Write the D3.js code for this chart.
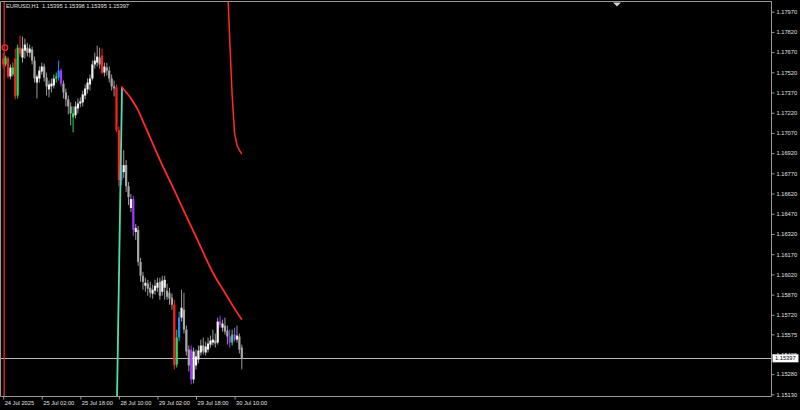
<!DOCTYPE html>
<html><head><meta charset="utf-8">
<script src="https://cdn.jsdelivr.net/npm/d3@7/dist/d3.min.js"></script>
<style>html,body{margin:0;padding:0;background:#000;}svg{display:block;}</style>
</head><body>
<svg id="chart" width="800" height="410"></svg>
<script>
// ---------- DATA ----------
const titleText = "EURUSD,H1  1.15395 1.15398 1.15395 1.15397";
const opens = [1.17622,1.17578,1.17622,1.17489,1.17555,1.17622,1.17348,1.17703,1.17629,1.17681,
1.17703,1.17666,1.17689,1.17607,1.17444,1.17474,1.17526,1.17563,1.17481,1.17393,
1.17415,1.17422,1.17474,1.17481,1.17533,1.17437,1.17371,1.17319,1.17267,1.17215,
1.17201,1.17252,1.17289,1.17297,1.17348,1.17393,1.17430,1.17474,1.17578,1.17592,
1.17629,1.17644,1.17518,1.17555,1.17533,1.17474,1.17415,1.17407,1.17090,1.16720,
1.16779,1.16831,1.16675,1.16513,1.16579,1.16335,1.16350,1.16113,1.16010,1.15936,
1.15951,1.15921,1.15877,1.15899,1.15921,1.15965,1.15891,1.15921,1.15899,1.15884,
1.15847,1.15795,1.15352,1.15551,1.15699,1.15758,1.15610,1.15462,1.15462,1.15240,
1.15344,1.15388,1.15440,1.15492,1.15440,1.15462,1.15499,1.15514,1.15529,1.15514,
1.15670,1.15625,1.15640,1.15603,1.15559,1.15514,1.15573,1.15536,1.15559,1.15477];
const highs = [1.17666,1.17644,1.17637,1.17578,1.17592,1.17696,1.17726,1.17792,1.17785,1.17770,
1.17740,1.17726,1.17711,1.17637,1.17504,1.17563,1.17592,1.17585,1.17518,1.17459,
1.17474,1.17504,1.17518,1.17607,1.17548,1.17459,1.17400,1.17348,1.17297,1.17267,
1.17304,1.17326,1.17334,1.17385,1.17430,1.17474,1.17504,1.17607,1.17666,1.17718,
1.17703,1.17696,1.17592,1.17592,1.17563,1.17504,1.17459,1.17430,1.17119,1.16831,
1.16942,1.16868,1.16705,1.16616,1.16601,1.16394,1.16380,1.16143,1.16039,1.15995,
1.15980,1.15965,1.15943,1.15980,1.15995,1.15995,1.16010,1.16010,1.15951,1.15921,
1.15877,1.15832,1.15610,1.15743,1.15906,1.15884,1.15640,1.15492,1.15492,1.15477,
1.15462,1.15492,1.15536,1.15551,1.15522,1.15551,1.15566,1.15610,1.15581,1.15699,
1.15714,1.15684,1.15699,1.15640,1.15610,1.15610,1.15625,1.15640,1.15581,1.15499];
const lows = [1.17548,1.17563,1.17474,1.17467,1.17489,1.17319,1.17326,1.17637,1.17592,1.17622,
1.17637,1.17629,1.17578,1.17444,1.17326,1.17444,1.17504,1.17452,1.17348,1.17334,
1.17371,1.17400,1.17444,1.17459,1.17415,1.17326,1.17267,1.17208,1.17127,1.17075,
1.17178,1.17215,1.17260,1.17267,1.17319,1.17363,1.17385,1.17459,1.17548,1.17563,
1.17548,1.17504,1.17489,1.17496,1.17444,1.17385,1.17341,1.17075,1.16675,1.16683,
1.16735,1.16631,1.16535,1.16483,1.16306,1.16276,1.16084,1.15965,1.15906,1.15891,
1.15862,1.15847,1.15840,1.15869,1.15891,1.15832,1.15862,1.15832,1.15832,1.15795,
1.15758,1.15315,1.15329,1.15522,1.15670,1.15581,1.15418,1.15300,1.15204,1.15211,
1.15315,1.15359,1.15418,1.15425,1.15418,1.15440,1.15477,1.15492,1.15477,1.15499,
1.15625,1.15596,1.15573,1.15499,1.15477,1.15492,1.15522,1.15514,1.15433,1.15315];
const closes = [1.17578,1.17629,1.17489,1.17555,1.17504,1.17341,1.17703,1.17659,1.17696,1.17726,
1.17666,1.17696,1.17607,1.17474,1.17489,1.17533,1.17563,1.17481,1.17415,1.17430,
1.17437,1.17474,1.17489,1.17533,1.17437,1.17371,1.17319,1.17267,1.17215,1.17186,
1.17267,1.17289,1.17304,1.17356,1.17400,1.17444,1.17474,1.17578,1.17607,1.17637,
1.17578,1.17518,1.17563,1.17533,1.17474,1.17415,1.17400,1.17090,1.16720,1.16794,
1.16831,1.16675,1.16594,1.16579,1.16350,1.16365,1.16113,1.16010,1.15965,1.15958,
1.15914,1.15884,1.15906,1.15936,1.15958,1.15862,1.15973,1.15980,1.15854,1.15840,
1.15795,1.15344,1.15551,1.15699,1.15773,1.15610,1.15448,1.15344,1.15240,1.15448,
1.15411,1.15455,1.15492,1.15448,1.15485,1.15507,1.15529,1.15536,1.15507,1.15670,
1.15647,1.15655,1.15596,1.15559,1.15514,1.15573,1.15536,1.15566,1.15462,1.15397];
// indicator-painted bars
const paintIndex = [0,1,2,4,5,6,7,22,23,24,29,41,47,48,49,54,71,72,73,78,90,94,95,96];
const paintKind  = ["r","g","r","g","r","g","r","g","b","p","g","r","r","r","b","p","r","g","b","p","p","p","g","p"];
// price axis labels
const priceTicks = [1.17970,1.17820,1.17670,1.17520,1.17370,1.17220,1.17070,1.16920,1.16770,1.16620,
1.16470,1.16320,1.16170,1.16020,1.15870,1.15720,1.15575,1.15425,1.15280,1.15130];
// time axis labels (bar index of each label)
const timeTickIndex = [0,16,32,48,64,80,96];
const timeTickLabels = ["24 Jul 2025","25 Jul 02:00","25 Jul 18:00","28 Jul 10:00","29 Jul 02:00","29 Jul 18:00","30 Jul 10:00"];
const lastPrice = 1.15397;
// lower red indicator curve
const redCurveIdx = [49,53,56,58,62,66,70,75,81,87,92,96,99];
const redCurveVal = [1.17415,1.17326,1.17237,1.17156,1.16993,1.16831,1.16683,1.16490,1.16261,1.16032,1.15884,1.15766,1.15684];
// upper red indicator curve
const upperCurveIdx = [93,94,95,96,97,98,99];
const upperCurveVal = [1.18199,1.17755,1.17348,1.17067,1.16979,1.16942,1.16912];
// aquamarine trend line
const greenLineIdx = [49.3,47.2];
const greenLineVal = [1.17407,1.15080];
// red marker circle & vertical line
const markerIdx = 0.7, markerVal = 1.17703;
const vLineIdx = 0.4;

// ---------- LAYOUT ----------
const W = 800, H = 410;
const plot = {left: 0.5, right: 771.5, top: 1.5, bottom: 396.5};
const palette = {r:"#ff2020", g:"#22dd55", b:"#2a8cff", p:"#a238ff"};
const bullFill = "#f2f2f2", bearFill = "#a8a8a8", wickCol = "#9a9a9a";
const fontFam = "'Liberation Sans', Arial, sans-serif";
const fs = 5.7;

const svg = d3.select("#chart");
svg.append("rect").attr("width", W).attr("height", H).attr("fill", "#000");

const x = d3.scaleLinear().domain([0, 99]).range([3.2, 241.8]);
const y = d3.scaleLinear().domain([1.15130, 1.17970]).range([394.3, 11.7]);

svg.append("clipPath").attr("id", "clip").append("rect")
  .attr("x", plot.left).attr("y", plot.top)
  .attr("width", plot.right - plot.left).attr("height", plot.bottom - plot.top);

const g = svg.append("g").attr("clip-path", "url(#clip)");

// current price line
g.append("line").attr("x1", plot.left).attr("x2", plot.right)
  .attr("y1", Math.round(y(lastPrice)) + 0.5).attr("y2", Math.round(y(lastPrice)) + 0.5)
  .attr("stroke", "#b8b8b8").attr("stroke-width", 1);

// red vertical line
g.append("line").attr("x1", x(vLineIdx)).attr("x2", x(vLineIdx))
  .attr("y1", plot.top).attr("y2", plot.bottom)
  .attr("stroke", "#ff2a2a").attr("stroke-width", 1.2);

// candles
const paint = new Map(paintIndex.map((d, i) => [d, palette[paintKind[i]]]));
const bars = d3.range(opens.length).map(i => ({i, o: opens[i], h: highs[i], l: lows[i], c: closes[i], col: paint.get(i)}));

g.selectAll("line.wick").data(bars).join("line").attr("class", "wick")
  .attr("x1", d => x(d.i)).attr("x2", d => x(d.i))
  .attr("y1", d => y(d.h)).attr("y2", d => y(d.l))
  .attr("stroke", d => d.col || wickCol).attr("stroke-width", 1);

g.selectAll("rect.body").data(bars).join("rect").attr("class", "body")
  .attr("x", d => x(d.i) - 1.1).attr("width", 2.2)
  .attr("y", d => y(Math.max(d.o, d.c)))
  .attr("height", d => Math.max(1, Math.abs(y(d.o) - y(d.c))))
  .attr("fill", d => d.col || (d.c >= d.o ? bullFill : bearFill));

// aquamarine line
g.append("path").datum(greenLineIdx.map((d, i) => [d, greenLineVal[i]]))
  .attr("d", d3.line().x(d => x(d[0])).y(d => y(d[1])))
  .attr("fill", "none").attr("stroke", "#50dcaa").attr("stroke-width", 1.8);

// red curves
const ln = d3.line().x(d => x(d[0])).y(d => y(d[1])).curve(d3.curveMonotoneX);
g.append("path").datum(redCurveIdx.map((d, i) => [d, redCurveVal[i]]))
  .attr("d", ln).attr("fill", "none").attr("stroke", "#ff2a2a").attr("stroke-width", 1.8);
g.append("path").datum(upperCurveIdx.map((d, i) => [d, upperCurveVal[i]]))
  .attr("d", d3.line().x(d => x(d[0])).y(d => y(d[1])))
  .attr("fill", "none").attr("stroke", "#ff2a2a").attr("stroke-width", 1.5);

// marker circle
g.append("circle").attr("cx", x(markerIdx)).attr("cy", y(markerVal)).attr("r", 2.8)
  .attr("fill", "none").attr("stroke", "#ff2a2a").attr("stroke-width", 1.3);

// border
svg.append("path")
  .attr("d", `M${plot.left},${plot.bottom}V${plot.top}H${plot.right}V${plot.bottom}H${plot.left}`)
  .attr("fill", "none").attr("stroke", "#9a9a9a").attr("stroke-width", 1);

// chart shift marker
svg.append("path").attr("d", "M613,2.5L621,2.5L617,6.5Z").attr("fill", "#d0d0d0");

// price axis
const yAxis = svg.append("g").attr("transform", `translate(${plot.right},0)`)
  .call(d3.axisRight(y).tickValues(priceTicks).tickFormat(d3.format(".5f")).tickSize(3).tickPadding(2));
yAxis.select(".domain").remove();
yAxis.selectAll("line").attr("stroke", "#9a9a9a");
yAxis.selectAll("text").attr("fill", "#e0e0e0").attr("font-size", fs).attr("font-family", fontFam);

// time axis
const xAxis = svg.append("g").attr("transform", `translate(0,${plot.bottom})`)
  .call(d3.axisBottom(x).tickValues(timeTickIndex).tickFormat((d, i) => timeTickLabels[i]).tickSize(3).tickPadding(1.5));
xAxis.select(".domain").remove();
xAxis.selectAll("line").attr("stroke", "#9a9a9a");
xAxis.selectAll("text").attr("fill", "#e0e0e0").attr("font-size", fs).attr("font-family", fontFam)
  .attr("text-anchor", "start").attr("x", 1);

// last price label (covers the neighbouring axis label as in the reference)
const ly = y(lastPrice);
svg.append("rect").attr("x", plot.right + 1).attr("y", ly - 4).attr("width", 26).attr("height", 8).attr("fill", "#ffffff");
svg.append("text").attr("x", plot.right + 3.5).attr("y", ly).attr("dy", "0.35em")
  .attr("font-size", fs).attr("font-family", fontFam).attr("fill", "#000")
  .text(d3.format(".5f")(lastPrice));

// title
svg.append("text").attr("x", 6).attr("y", 6.5).attr("dy", "0.35em")
  .attr("font-size", fs).attr("font-family", fontFam).attr("fill", "#e0e0e0")
  .attr("xml:space", "preserve").style("white-space", "pre")
  .text(titleText);
</script>
</body></html>
